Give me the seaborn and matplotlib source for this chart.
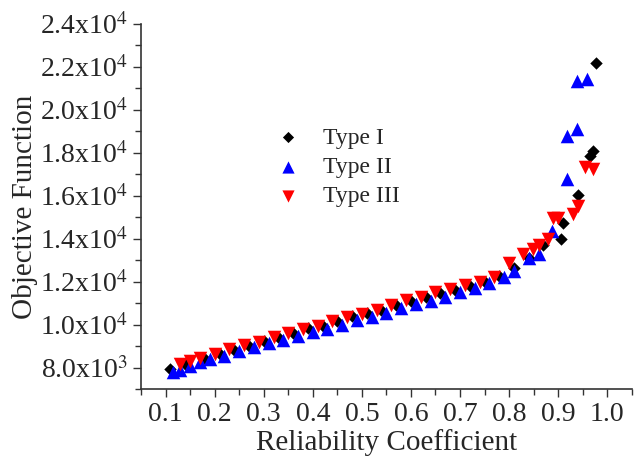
import matplotlib
matplotlib.use("Agg")
import matplotlib.pyplot as plt
import matplotlib.ticker as mticker
import seaborn as sns

sns.set_theme(style="ticks")
plt.rcParams["font.family"] = ["Liberation Serif", "DejaVu Serif"]
plt.rcParams["mathtext.fontset"] = "stix"

# ── data ────────────────────────────────────────────────────────────────
type1_x = [0.11, 0.14, 0.18, 0.21, 0.24, 0.27, 0.30, 0.33, 0.36, 0.39, 0.42,
           0.45, 0.48, 0.51, 0.54, 0.57, 0.60, 0.63, 0.66, 0.69, 0.72, 0.75,
           0.78, 0.81, 0.84, 0.87, 0.905, 0.91, 0.941, 0.965, 0.971, 0.977]
type1_y = [7950, 8150, 8400, 8650, 8800, 9000, 9250, 9400, 9600, 9850, 9950,
           10150, 10400, 10550, 10700, 10900, 11100, 11300, 11450, 11600, 11800,
           12000, 12250, 12650, 13100, 13700, 14000, 14750, 16050, 17850, 18100,
           22200]

type2_x = [0.115, 0.13, 0.15, 0.17, 0.19, 0.22, 0.25, 0.28, 0.31, 0.34, 0.37,
           0.40, 0.43, 0.46, 0.49, 0.52, 0.55, 0.58, 0.61, 0.64, 0.67, 0.70,
           0.73, 0.76, 0.79, 0.81, 0.84, 0.86, 0.887, 0.917, 0.917, 0.939,
           0.939, 0.959]
type2_y = [7800, 7900, 8050, 8250, 8400, 8550, 8750, 8950, 9150, 9300, 9450,
           9650, 9800, 10000, 10200, 10350, 10550, 10750, 10950, 11100, 11300,
           11500, 11700, 11950, 12200, 12500, 13100, 13300, 14350, 16800, 18800,
           19100, 21350, 21450]

type3_x = [0.13, 0.15, 0.17, 0.20, 0.23, 0.26, 0.29, 0.32, 0.35, 0.38, 0.41,
           0.44, 0.47, 0.50, 0.53, 0.56, 0.59, 0.62, 0.65, 0.68, 0.71, 0.74,
           0.77, 0.80, 0.828, 0.848, 0.86, 0.88, 0.889, 0.90, 0.93, 0.941,
           0.955, 0.971]
type3_y = [8150, 8300, 8450, 8650, 8850, 9050, 9200, 9400, 9600, 9800, 9950,
           10150, 10350, 10500, 10700, 10900, 11150, 11300, 11500, 11650, 11850,
           12000, 12200, 12850, 13300, 13500, 13700, 14000, 14980, 14980, 15160,
           15530, 17350, 17250]

x_ticks = [0.1, 0.2, 0.3, 0.4, 0.5, 0.6, 0.7, 0.8, 0.9, 1.0]
y_ticks = [8000, 10000, 12000, 14000, 16000, 18000, 20000, 22000, 24000]


def sci_label(v, _):
    exp = len(str(int(v))) - 1
    return f"{v / 10 ** exp:.1f}x10$^{{{exp}}}$"


fig = plt.figure(figsize=(6.35, 4.62), dpi=100)
ax = fig.add_axes([0.222, 0.158, 0.773, 0.79])

sns.scatterplot(x=type1_x, y=type1_y, marker="D", color="black", s=40,
                linewidth=0, label="Type I", ax=ax)
sns.scatterplot(x=type2_x, y=type2_y, marker="^", color="#0000FF", s=95,
                linewidth=0, label="Type II", ax=ax)
sns.scatterplot(x=type3_x, y=type3_y, marker="v", color="#FF0000", s=95,
                linewidth=0, label="Type III", ax=ax)

ax.set_xlim(0.05, 1.05)
ax.set_ylim(7000, 24000)
ax.set_xticks(x_ticks)
ax.set_yticks(y_ticks)
ax.xaxis.set_minor_locator(mticker.MultipleLocator(0.05))
ax.yaxis.set_minor_locator(mticker.MultipleLocator(1000))
ax.xaxis.set_major_formatter(mticker.FormatStrFormatter("%.1f"))
ax.yaxis.set_major_formatter(mticker.FuncFormatter(sci_label))
ax.tick_params(which="major", direction="out", length=6, width=1,
               labelsize=20, color="#333333", pad=3)
ax.tick_params(which="minor", direction="out", length=4, width=1,
               color="#333333")

for side in ["top", "right"]:
    ax.spines[side].set_visible(False)
for side in ["left", "bottom"]:
    ax.spines[side].set_color("#333333")
    ax.spines[side].set_linewidth(1.2)

ax.set_xlabel("Reliability Coefficient", fontsize=21, labelpad=2)
ax.set_ylabel("Objective Function", fontsize=21, labelpad=2)

ax.legend(loc="upper left", bbox_to_anchor=(0.208, 0.776), frameon=False,
          fontsize=17, handletextpad=0.48, labelspacing=0.33, markerscale=0.9)

fig.savefig("out.png", dpi=100)
